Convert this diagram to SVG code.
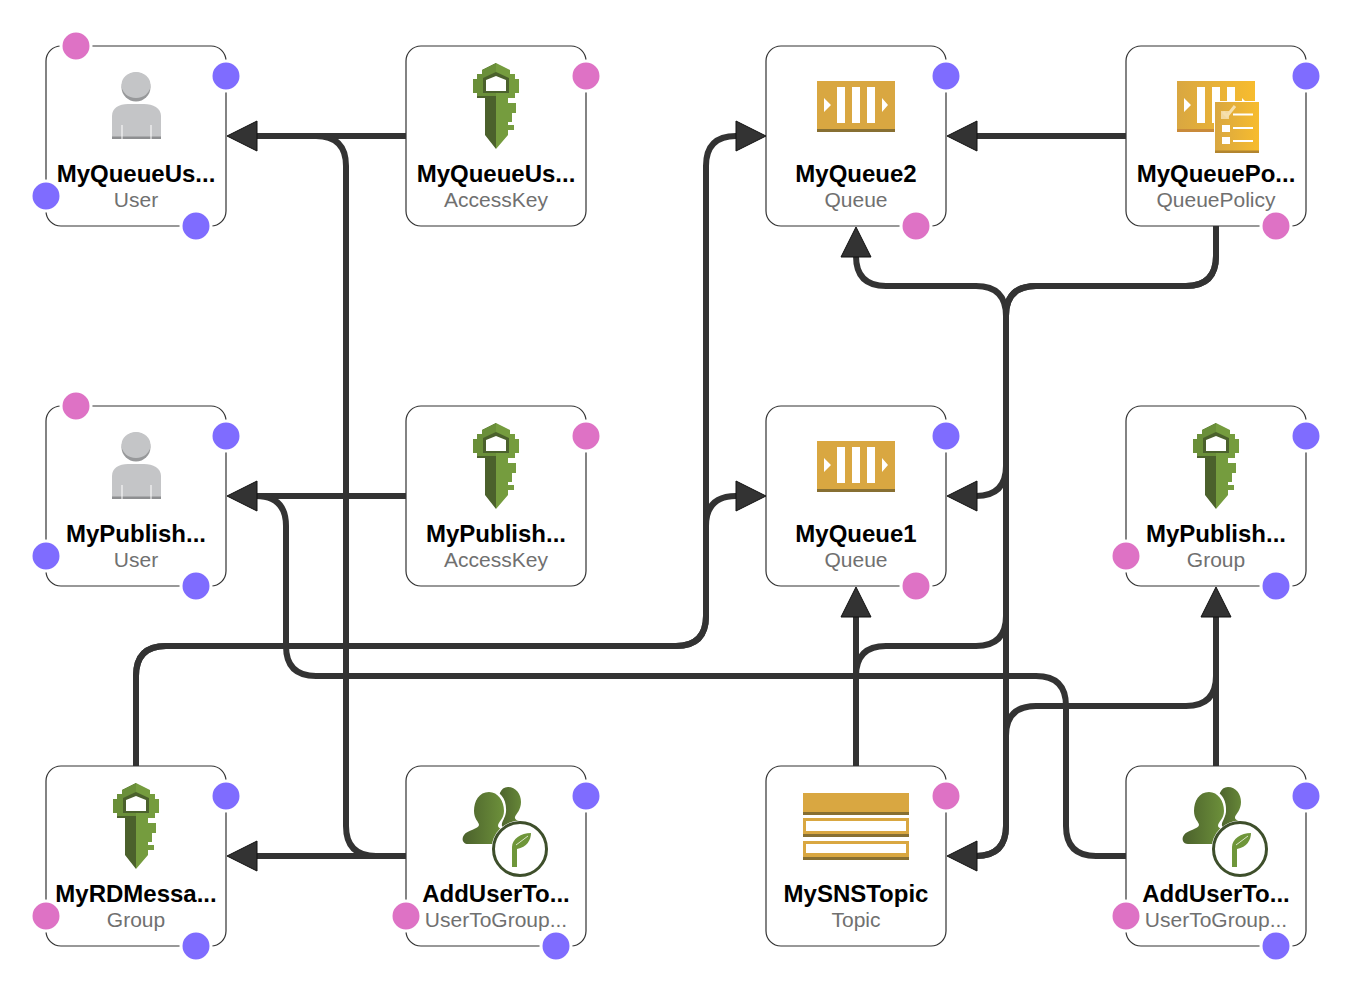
<svg xmlns="http://www.w3.org/2000/svg" xmlns:xlink="http://www.w3.org/1999/xlink" width="1352" height="992" viewBox="0 0 1352 992">
<style>
.box{fill:#fff;stroke:#333;stroke-width:1.2}
.name{font:bold 24px "Liberation Sans",Arial,sans-serif;fill:#000;text-anchor:middle}
.type{font:21px "Liberation Sans",Arial,sans-serif;fill:#707070;text-anchor:middle}
.p{fill:#DE72C5;stroke:#fff;stroke-width:3}
.b{fill:#7F6CFF;stroke:#fff;stroke-width:3}
.c{fill:none;stroke:#333;stroke-width:6}
.a{fill:#333;stroke:#111;stroke-width:1}
.w{fill:#fff}
</style>
<defs>
<linearGradient id="gU" x1="0" x2="1" y1="0" y2="0"><stop offset="0" stop-color="#4B612C"/><stop offset="1" stop-color="#759C3E"/></linearGradient>
<linearGradient id="gP" x1="0" x2="1" y1="0" y2="0"><stop offset="0" stop-color="#D9A741"/><stop offset="1" stop-color="#F7BC2E"/></linearGradient>
<g id="iUser">
<path d="M66 93V70C66 62 73 58 82 58H98C107 58 115 62 115 70V93Z" fill="#C4C5C7"/>
<rect x="66" y="90.500" width="49" height="2.500" fill="#8E8F91"/>
<rect x="75.500" y="79" width="1" height="14" class="w"/><rect x="104.500" y="79" width="1" height="14" class="w"/>
<ellipse cx="90" cy="41" rx="14.500" ry="14.500" fill="#97989A"/>
<ellipse cx="90" cy="39" rx="14.500" ry="13" fill="#C4C5C7"/>
</g>
<g id="iKey">
<path d="M90 17L76 24V28H71V33H67V47H71V52H79V89L90 103Z" fill="#4B612C"/>
<path d="M90 17L76 24V28H71V33H67V47H71V50H90Z" fill="#6A8F39"/>
<path d="M90 17L104 24V28H109V33H113V47H109V52H102V57H110V67H106V76H102V79H108V84H102V89L90 103Z" fill="#759C3E"/>
<path d="M90 26L103 32V47H90Z" fill="#4B612C"/>
<path d="M90 26L77 32V47H90Z" fill="#4B612C"/>
<path d="M90 30L100 34V45H80V34Z" fill="#fff"/>
</g>
<g id="iQueue">
<rect x="51" y="35" width="78" height="51" fill="#D9A741"/>
<rect x="51" y="83" width="78" height="3" fill="#876F32"/>
<rect x="71" y="41" width="8" height="36" class="w"/><rect x="86" y="41" width="8" height="36" class="w"/><rect x="101" y="41" width="8" height="36" class="w"/>
<path d="M58 52L65 59L58 66ZM116 52L122 59L116 66Z" class="w"/>
</g>
<g id="iPolicy">
<rect x="51" y="35" width="78" height="51" fill="url(#gP)"/>
<rect x="51" y="83" width="40" height="3" fill="#C98A3A"/>
<rect x="71" y="41" width="8" height="36" class="w"/><rect x="86" y="41" width="8" height="36" class="w"/><rect x="101" y="41" width="8" height="36" class="w"/>
<path d="M58 52L65 59L58 66ZM116 52L119 55H116Z" class="w"/>
<rect x="88" y="55" width="46" height="53" fill="#fff"/>
<rect x="89" y="56" width="44" height="51" fill="url(#gP)"/>
<rect x="89" y="104.500" width="44" height="2.500" fill="#B2852F"/>
<rect x="95" y="65" width="8" height="8" fill="#F3D9A0"/><rect x="96" y="79" width="8" height="7" class="w"/><rect x="96" y="91" width="8" height="7" class="w"/>
<path d="M97 66L101 70L109 60" fill="none" stroke="#F6E0AE" stroke-width="3"/>
<path d="M107 68.500H127M107 82H127M107 95H127" stroke="#fff" stroke-width="1.800"/>
</g>
<g id="iGroup">
<path d="M102 21C110 21 115 28 115 36C115 44 110 48 109 51C108 55 116 55 121 58L128 64L100 76L92 60V40C92 30 94 21 102 21Z" fill="url(#gU)"/>
<path d="M83 24C95 24 101 34 100 46C99 53 95 56 96 60C98 63 104 65 110 68L92 80H55V64L66 60V44C67 32 72 24 83 24Z" fill="#fff"/>
<path d="M83 26C92 26 98 35 98 45C98 53 92 56 92 60C92 63 102 65 108 68L96 78H62C57 78 55 73 58 69C61 64 73 63 73 59C73 56 68 53 68 45C68 35 73 26 83 26Z" fill="url(#gU)"/>
<circle cx="114" cy="83" r="28.500" fill="#fff"/>
<circle cx="114" cy="83" r="26.500" fill="#fff" stroke="#3E4F2B" stroke-width="3"/>
<path d="M106 101V81C106 73 115 67 125 67C125 74 121 81 111 83V101Z" fill="#6F963A"/>
<path d="M110 79C114 76 118 73 122 70" fill="none" stroke="#DDE6CC" stroke-width="1"/>
</g>
<g id="iTopic">
<rect x="37" y="27" width="106" height="22" fill="#D9A741"/><rect x="37" y="46" width="106" height="3" fill="#876F32"/>
<rect x="37" y="52" width="106" height="19" fill="#D9A741"/><rect x="37" y="68" width="106" height="3" fill="#876F32"/><rect x="40" y="55" width="100" height="10" class="w"/>
<rect x="37" y="75" width="106" height="19" fill="#D9A741"/><rect x="37" y="91" width="106" height="3" fill="#876F32"/><rect x="40" y="78" width="100" height="9" class="w"/>
</g>
<g id="arrL"><path d="M0 0L30 -15V15Z" class="a"/></g>
</defs>
<rect width="1352" height="992" fill="#fff"/>

<g id="n1"><rect class="box" x="46" y="46" width="180" height="180" rx="15"/><use href="#iUser" x="46" y="46"/><text class="name" x="136" y="182">MyQueueUs...</text><text class="type" x="136" y="207">User</text><circle class="p" cx="76" cy="46" r="15"/><circle class="b" cx="226" cy="76" r="15"/><circle class="b" cx="46" cy="196" r="15"/><circle class="b" cx="196" cy="226" r="15"/></g>
<g id="n2"><rect class="box" x="406" y="46" width="180" height="180" rx="15"/><use href="#iKey" x="406" y="46"/><text class="name" x="496" y="182">MyQueueUs...</text><text class="type" x="496" y="207">AccessKey</text><circle class="p" cx="586" cy="76" r="15"/></g>
<g id="n3"><rect class="box" x="766" y="46" width="180" height="180" rx="15"/><use href="#iQueue" x="766" y="46"/><text class="name" x="856" y="182">MyQueue2</text><text class="type" x="856" y="207">Queue</text><circle class="b" cx="946" cy="76" r="15"/><circle class="p" cx="916" cy="226" r="15"/></g>
<g id="n4"><rect class="box" x="1126" y="46" width="180" height="180" rx="15"/><use href="#iPolicy" x="1126" y="46"/><text class="name" x="1216" y="182">MyQueuePo...</text><text class="type" x="1216" y="207">QueuePolicy</text><circle class="b" cx="1306" cy="76" r="15"/><circle class="p" cx="1276" cy="226" r="15"/></g>
<g id="n5"><rect class="box" x="46" y="406" width="180" height="180" rx="15"/><use href="#iUser" x="46" y="406"/><text class="name" x="136" y="542">MyPublish...</text><text class="type" x="136" y="567">User</text><circle class="p" cx="76" cy="406" r="15"/><circle class="b" cx="226" cy="436" r="15"/><circle class="b" cx="46" cy="556" r="15"/><circle class="b" cx="196" cy="586" r="15"/></g>
<g id="n6"><rect class="box" x="406" y="406" width="180" height="180" rx="15"/><use href="#iKey" x="406" y="406"/><text class="name" x="496" y="542">MyPublish...</text><text class="type" x="496" y="567">AccessKey</text><circle class="p" cx="586" cy="436" r="15"/></g>
<g id="n7"><rect class="box" x="766" y="406" width="180" height="180" rx="15"/><use href="#iQueue" x="766" y="406"/><text class="name" x="856" y="542">MyQueue1</text><text class="type" x="856" y="567">Queue</text><circle class="b" cx="946" cy="436" r="15"/><circle class="p" cx="916" cy="586" r="15"/></g>
<g id="n8"><rect class="box" x="1126" y="406" width="180" height="180" rx="15"/><use href="#iKey" x="1126" y="406"/><text class="name" x="1216" y="542">MyPublish...</text><text class="type" x="1216" y="567">Group</text><circle class="b" cx="1306" cy="436" r="15"/><circle class="p" cx="1126" cy="556" r="15"/><circle class="b" cx="1276" cy="586" r="15"/></g>
<g id="n9"><rect class="box" x="46" y="766" width="180" height="180" rx="15"/><use href="#iKey" x="46" y="766"/><text class="name" x="136" y="902">MyRDMessa...</text><text class="type" x="136" y="927">Group</text><circle class="b" cx="226" cy="796" r="15"/><circle class="p" cx="46" cy="916" r="15"/><circle class="b" cx="196" cy="946" r="15"/></g>
<g id="n10"><rect class="box" x="406" y="766" width="180" height="180" rx="15"/><use href="#iGroup" x="406" y="766"/><text class="name" x="496" y="902">AddUserTo...</text><text class="type" x="496" y="927">UserToGroup...</text><circle class="b" cx="586" cy="796" r="15"/><circle class="p" cx="406" cy="916" r="15"/><circle class="b" cx="556" cy="946" r="15"/></g>
<g id="n11"><rect class="box" x="766" y="766" width="180" height="180" rx="15"/><use href="#iTopic" x="766" y="766"/><text class="name" x="856" y="902">MySNSTopic</text><text class="type" x="856" y="927">Topic</text><circle class="p" cx="946" cy="796" r="15"/></g>
<g id="n12"><rect class="box" x="1126" y="766" width="180" height="180" rx="15"/><use href="#iGroup" x="1126" y="766"/><text class="name" x="1216" y="902">AddUserTo...</text><text class="type" x="1216" y="927">UserToGroup...</text><circle class="b" cx="1306" cy="796" r="15"/><circle class="p" cx="1126" cy="916" r="15"/><circle class="b" cx="1276" cy="946" r="15"/></g>

<g id="connectors">
<path class="c" d="M406 136H257"/>
<path class="c" d="M406 856H376Q346 856 346 826V166Q346 136 316 136H257"/>
<path class="c" d="M406 856H257"/>
<path class="c" d="M136 766V676Q136 646 166 646H676Q706 646 706 616V166Q706 136 736 136"/>
<path class="c" d="M136 766V676Q136 646 166 646H676Q706 646 706 616V526Q706 496 736 496"/>
<path class="c" d="M406 496H257"/>
<path class="c" d="M1126 856H1096Q1066 856 1066 826V706Q1066 676 1036 676H316Q286 676 286 646V526Q286 496 256 496"/>
<path class="c" d="M1126 136H976"/>
<path class="c" d="M1216 226V256Q1216 286 1186 286H1036Q1006 286 1006 316V466Q1006 496 976 496"/>
<path class="c" d="M856 766V676Q856 646 886 646H976Q1006 646 1006 616V316Q1006 286 976 286H886Q856 286 856 256"/>
<path class="c" d="M856 766V616"/>
<path class="c" d="M1216 766V616"/>
<path class="c" d="M1216 226V256Q1216 286 1186 286H1036Q1006 286 1006 316V826Q1006 856 976 856"/>
<path class="c" d="M1216 766V676Q1216 706 1186 706H1036Q1006 706 1006 736V826Q1006 856 976 856"/>
<use href="#arrL" x="227" y="136"/>
<use href="#arrL" x="227" y="496"/>
<use href="#arrL" x="227" y="856"/>
<use href="#arrL" x="947" y="136"/>
<use href="#arrL" x="947" y="496"/>
<use href="#arrL" x="947" y="856"/>
<path class="a" d="M766 136L736 121V151Z"/>
<path class="a" d="M766 496L736 481V511Z"/>
<path class="a" d="M856 227L841 257H871Z"/>
<path class="a" d="M856 587L841 617H871Z"/>
<path class="a" d="M1216 587L1201 617H1231Z"/>
</g>
</svg>
